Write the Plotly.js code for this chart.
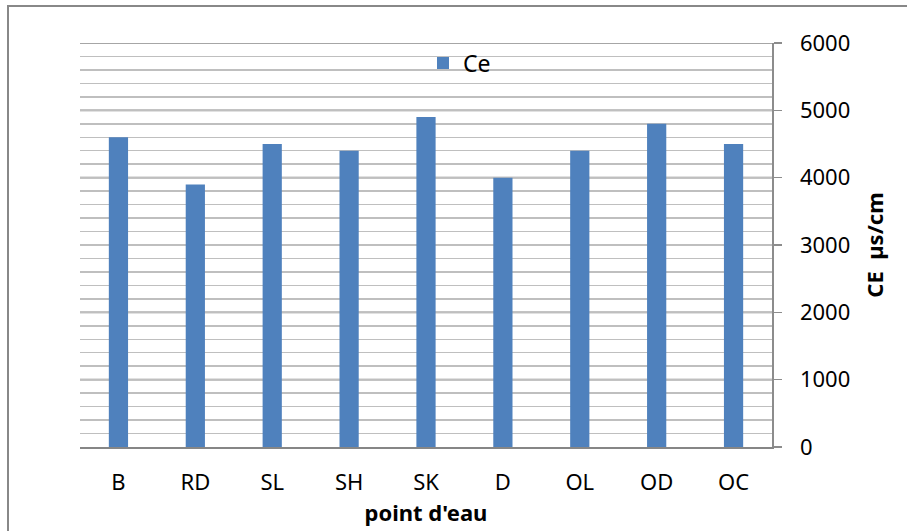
<!DOCTYPE html>
<html>
<head>
<meta charset="utf-8">
<script src="https://cdn.plot.ly/plotly-3.0.1.min.js"></script>
<style>html,body{margin:0;padding:0;background:#fff;}#chart{width:907px;height:531px;}</style>
</head>
<body>
<div id="chart"></div>
<script>
const categories = ["B", "RD", "SL", "SH", "SK", "D", "OL", "OD", "OC"];
const ceValues = [4600, 3900, 4500, 4400, 4900, 4000, 4400, 4800, 4500];
const seriesName = "Ce";
const xTitle = "point d'eau";
const yTitle = "CE  µs/cm";
const yTickVals = [0, 1000, 2000, 3000, 4000, 5000, 6000];

const W = 907, H = 531;
const L = 80, R = 772, T = 43, B = 447;
const px = v => (v - L) / (R - L);
const py = v => (B - v) / (B - T);

const font = "Noto Sans, Open Sans, sans-serif";

const majorLines = yTickVals.slice(1).map(v => ({
  type: "line", xref: "paper", yref: "y",
  x0: 0, x1: 1, y0: v, y1: v,
  line: {color: "#888888", width: 1.6}, layer: "between"
}));

Plotly.newPlot("chart", [{
  type: "bar",
  x: categories,
  y: ceValues,
  name: seriesName,
  marker: {color: "#4F81BD"},
  showlegend: true
}], {
  width: W, height: H,
  margin: {l: L, r: W - R, t: T, b: H - B, pad: 0},
  paper_bgcolor: "#fff",
  plot_bgcolor: "#fff",
  bargap: 0.75,
  font: {family: font, size: 22, color: "#000"},
  showlegend: true,
  legend: {x: px(423), y: py(63), xanchor: "left", yanchor: "middle",
           bgcolor: "rgba(0,0,0,0)", font: {size: 23, family: font},
           itemwidth: 30, tracegroupgap: 0},
  xaxis: {
    showgrid: false, zeroline: false,
    showline: true, linecolor: "#868686", linewidth: 1.6,
    ticks: "", ticklabelstandoff: 15,
    tickfont: {size: 22, family: font},
    title: {text: "<b>" + xTitle + "</b>", font: {size: 22, family: font}, standoff: 10},
    fixedrange: true
  },
  yaxis: {
    side: "right",
    range: [0, 6000],
    tickvals: yTickVals,
    showgrid: false,
    minor: {dtick: 200, showgrid: true, gridcolor: "#bfbfbf", gridwidth: 1.5, ticks: ""},
    zeroline: false,
    showline: true, linecolor: "#8c8c8c", linewidth: 1.5,
    ticks: "outside", ticklen: 8, tickcolor: "#8c8c8c", tickwidth: 1.5,
    ticklabelstandoff: 14,
    tickfont: {size: 22, family: font},
    title: {text: "<b>" + yTitle + "</b>", font: {size: 22, family: font}, standoff: 18},
    fixedrange: true
  },
  shapes: majorLines.concat([{
    type: "rect", xref: "paper", yref: "paper",
    x0: px(8), x1: px(930), y0: py(560), y1: py(6),
    line: {color: "#888", width: 2}, fillcolor: "rgba(0,0,0,0)", layer: "below"
  }])
}, {displayModeBar: false, staticPlot: true});
</script>
</body>
</html>
